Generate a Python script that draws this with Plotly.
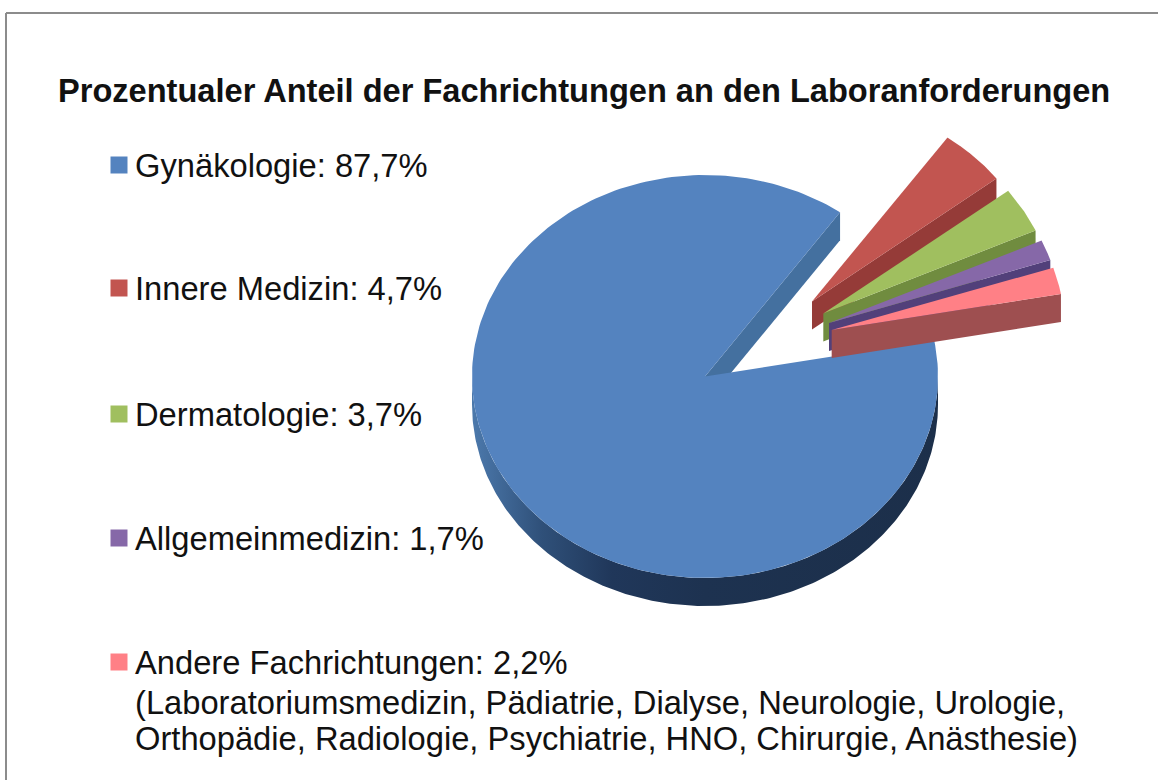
import numpy as np
import plotly.graph_objects as go

# Data
title_text = "Prozentualer Anteil der Fachrichtungen an den Laboranforderungen"
categories = ["Gynäkologie", "Innere Medizin", "Dermatologie", "Allgemeinmedizin", "Andere Fachrichtungen"]
values = [87.7, 4.7, 3.7, 1.7, 2.2]
note_lines = ["(Laboratoriumsmedizin, Pädiatrie, Dialyse, Neurologie, Urologie,",
              "Orthopädie, Radiologie, Psychiatrie, HNO, Chirurgie, Anästhesie)"]

# Style
top_colors = ["#5483BF", "#C25550", "#A0BF5F", "#8668A8", "#FF8086"]
wall_colors = ["#44709F", "#953B38", "#708C3F", "#52407A", "#9E4F50"]
rim_scale = [[0, "#4C79AC"], [0.15, "#2F5079"], [0.3, "#20375A"], [0.5, "#1D3250"], [1, "#1C2F4A"]]
explode_dx = [0, 107, 118.3, 124, 126.7]
explode_dy = [0, -75, -63, -53.5, -46.5]
legend_y = [165, 288, 414, 538, 662]
note_y = [702, 738]
CX, CY, RX, RY, DEPTH = 705, 376.5, 233, 201.5, 28
START_DEG = 10.3  # first slice starts here, slices run clockwise
TEXT = "#111111"
FONT = "Liberation Sans"


def arc(a0, a1, dx=0, dy=0):
    t = np.radians(np.linspace(a0, a1, 240))
    return CX + dx + RX * np.cos(t), CY + dy - RY * np.sin(t)


fig = go.Figure()


def poly(x, y, color=None, gradient=None):
    kw = dict(fillgradient=gradient) if gradient else dict(fillcolor=color)
    fig.add_trace(go.Scatter(x=list(x), y=list(y), mode="lines", fill="toself",
                             line=dict(width=0), hoverinfo="skip", showlegend=False, **kw))


angle = START_DEG
spans = []
for v in values:
    sweep = v / sum(values) * 360
    spans.append((angle, angle - sweep))
    angle -= sweep

for i, (a0, a1) in enumerate(spans):
    dx, dy = explode_dx[i], explode_dy[i]
    ax, ay = CX + dx, CY + dy
    ex, ey = arc(a1, a1, dx, dy)
    # wall on the clockwise end of each slice
    poly([ax, ex[0], ex[0], ax], [ay, ey[0], ey[0] + DEPTH, ay + DEPTH], color=wall_colors[i])
    if i == 0:
        rx, ry = arc(180, 360)
        poly(np.r_[rx, rx[::-1]], np.r_[ry + DEPTH, ry[::-1]],
             gradient=dict(type="horizontal", colorscale=rim_scale))
    tx, ty = arc(a0, a1, dx, dy)
    poly(np.r_[ax, tx, ax], np.r_[ay, ty, ay], color=top_colors[i])

# legend swatches
fig.add_trace(go.Scatter(x=[119] * len(categories), y=legend_y, mode="markers", hoverinfo="skip",
                         showlegend=False,
                         marker=dict(symbol="square", size=17, color=top_colors, line=dict(width=0))))

annotations = [dict(x=56, y=90, text=f"<b>{title_text}</b>", xanchor="left", yanchor="middle",
                    showarrow=False, xref="x", yref="y",
                    font=dict(family=FONT, size=32.6, color=TEXT))]
for cat, val, y in zip(categories, values, legend_y):
    label = f"{cat}: {val:.1f}%".replace(".", ",")
    annotations.append(dict(x=133, y=y, text=label, xanchor="left", yanchor="middle", showarrow=False,
                            xref="x", yref="y", font=dict(family=FONT, size=32.7, color=TEXT)))
for line, y in zip(note_lines, note_y):
    annotations.append(dict(x=133, y=y, text=line, xanchor="left", yanchor="middle", showarrow=False,
                            xref="x", yref="y", font=dict(family=FONT, size=32.7, color=TEXT)))

fig.update_layout(
    width=1158, height=780, margin=dict(l=0, r=0, t=0, b=0),
    paper_bgcolor="white", plot_bgcolor="white", showlegend=False,
    xaxis=dict(range=[0, 1158], visible=False, fixedrange=True),
    yaxis=dict(range=[780, 0], visible=False, fixedrange=True),
    annotations=annotations,
    shapes=[dict(type="line", xref="x", yref="y", x0=6, x1=6, y0=13, y1=780,
                 line=dict(color="#8C8C8C", width=2)),
            dict(type="line", xref="x", yref="y", x0=6, x1=1158, y0=13, y1=13,
                 line=dict(color="#8C8C8C", width=2))],
)
fig.write_html("out.html", config=dict(displayModeBar=False),
               post_script="document.body.style.margin='0';document.documentElement.style.overflow='hidden';")
